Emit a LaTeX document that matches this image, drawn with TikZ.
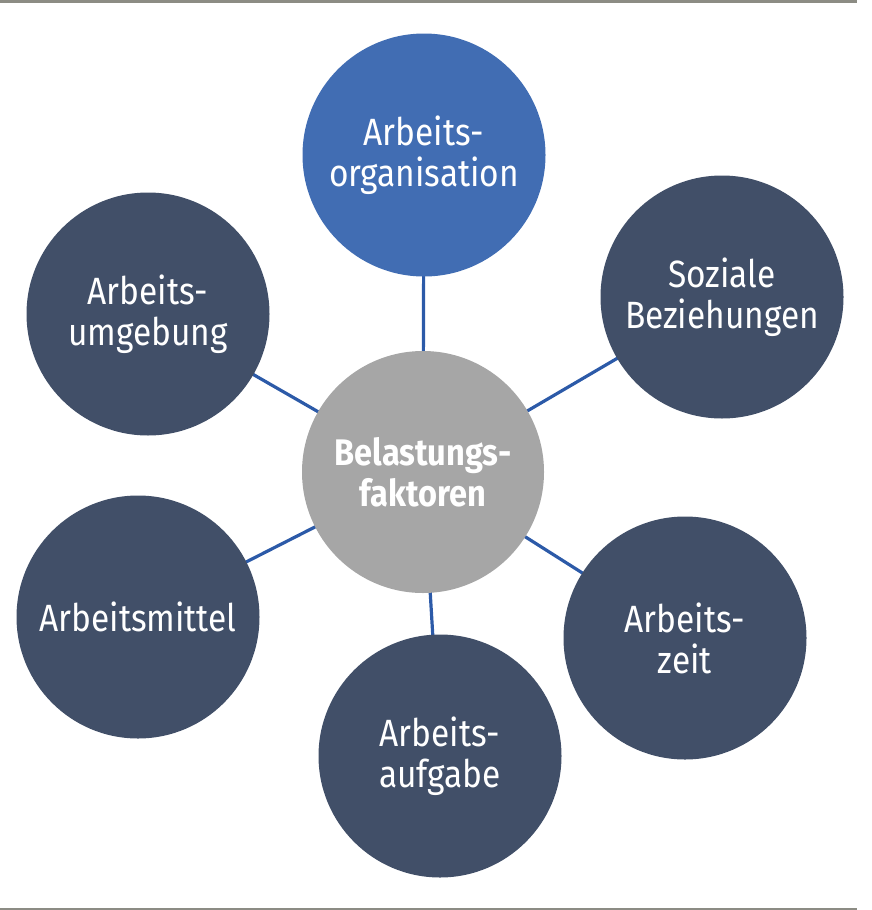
\documentclass[tikz,border=0pt]{standalone}
\usepackage{fontspec}
\setmainfont{Fira Sans}[FakeStretch=0.88]
\usetikzlibrary{backgrounds}
\definecolor{topblue}{HTML}{416DB3}
\definecolor{darkslate}{HTML}{414F68}
\definecolor{centergray}{HTML}{A6A6A6}
\definecolor{linkblue}{HTML}{2C5AA8}
\definecolor{rulegray}{HTML}{8C8C84}
\begin{document}
\begin{tikzpicture}[x=1pt,y=-1pt,
  bubble/.style={circle,minimum size=243pt,inner sep=0pt,text=white,align=center,
    font=\fontsize{38}{41}\selectfont},
  darkbubble/.style={bubble,fill=darkslate},
  topbubble/.style={bubble,fill=topblue},
  hubbubble/.style={bubble,fill=centergray,minimum size=242pt,font=\bfseries\fontsize{37}{41}\selectfont},
  link/.style={draw=linkblue,line width=3.2pt}]
\useasboundingbox (0,0) rectangle (872,910);
\fill[rulegray] (0,0) rectangle (857,3);
\fill[rulegray] (0,907.5) rectangle (857,910);
\node[hubbubble] (hub) at (423,472) {Belastungs-\\faktoren};
\node[topbubble] (org) at (424,155) {Arbeits-\\organisation};
\node[darkbubble] (soz) at (722,297) {Soziale\\Beziehungen};
\node[darkbubble] (umg) at (148,314) {Arbeits-\\umgebung};
\node[darkbubble] (mit) at (138,617) {Arbeitsmittel};
\node[darkbubble] (auf) at (440,756) {Arbeits-\\aufgabe};
\node[darkbubble] (zeit) at (685,638) {Arbeits-\\zeit};
\begin{scope}[on background layer]
\draw[link] (hub.center) -- (org.center);
\draw[link] (hub.center) -- (soz.center);
\draw[link] (hub.center) -- (umg.center);
\draw[link] (hub.center) -- (mit.center);
\draw[link] (hub.center) -- (auf.center);
\draw[link] (hub.center) -- (zeit.center);
\end{scope}
\end{tikzpicture}
\end{document}
